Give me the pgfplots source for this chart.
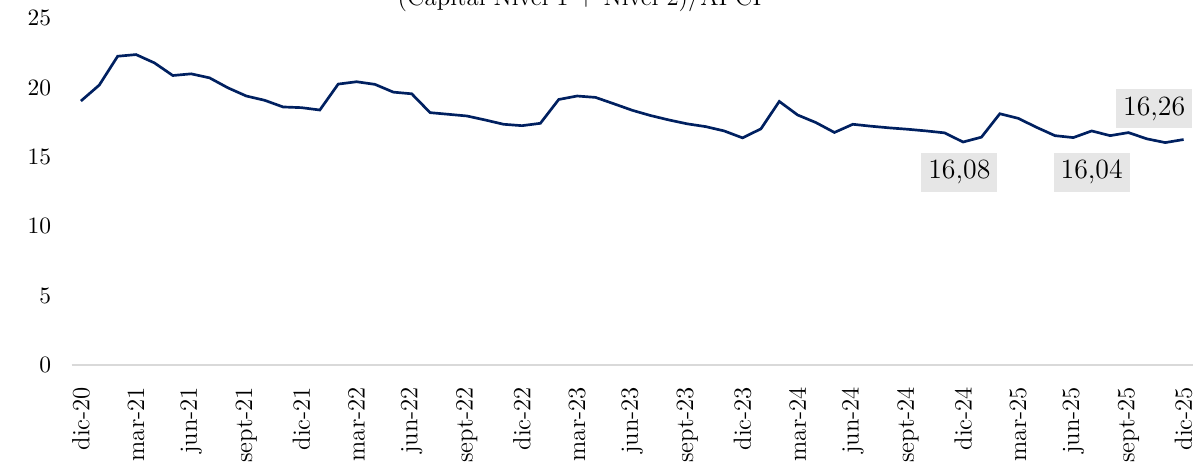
\documentclass[border=0pt]{standalone}
\usepackage{pgfplots}
\pgfplotsset{compat=1.18}
\definecolor{navy}{RGB}{0,32,96}
\definecolor{axgray}{RGB}{217,217,217}
\definecolor{boxgray}{RGB}{230,230,230}
\begin{document}
\begin{tikzpicture}
\useasboundingbox (-33.5pt,-46.2pt) rectangle (526.5pt,170.4pt);
\begin{axis}[
  at={(0,0)}, anchor=south west,
  scale only axis, width=523.6pt, height=161.8pt,
  xmin=-0.5, xmax=60.5, ymin=0, ymax=25,
  axis x line*=bottom, axis y line*=left,
  x axis line style={draw=axgray, line width=0.8pt, -},
  y axis line style={draw=none, -},
  ytick={0,5,...,25},
  xtick={0,3,...,60},
  xticklabels={dic-20,mar-21,jun-21,sept-21,dic-21,mar-22,jun-22,sept-22,dic-22,mar-23,jun-23,sept-23,dic-23,mar-24,jun-24,sept-24,dic-24,mar-25,jun-25,sept-25,dic-25},
  major tick length=0pt,
  yticklabel style={font=\fontsize{11}{13}\selectfont, xshift=-6.1pt},
  xticklabel style={font=\fontsize{11.6}{13}\selectfont, yshift=-6.8pt, rotate=90, anchor=east},
  clip=false,
]
\addplot[navy, line width=1.25pt, mark=none] table[x=i,y=v] {
i v
0 19.04
1 20.19
2 22.27
3 22.39
4 21.79
5 20.88
6 21.00
7 20.71
8 19.99
9 19.40
10 19.09
11 18.61
12 18.56
13 18.39
14 20.26
15 20.43
16 20.24
17 19.68
18 19.56
19 18.20
20 18.08
21 17.96
22 17.67
23 17.36
24 17.26
25 17.43
26 19.15
27 19.40
28 19.30
29 18.84
30 18.37
31 17.99
32 17.67
33 17.39
34 17.19
35 16.88
36 16.38
37 17.03
38 19.01
39 18.03
40 17.48
41 16.77
42 17.36
43 17.22
44 17.10
45 17.00
46 16.88
47 16.74
48 16.08
49 16.43
50 18.12
51 17.79
52 17.14
53 16.54
54 16.40
55 16.88
56 16.54
57 16.76
58 16.31
59 16.04
60 16.26
};
\node[fill=boxgray, minimum width=35.5pt, minimum height=18.2pt, inner sep=0pt, font=\fontsize{13}{15}\selectfont] at (axis cs:47.8,13.9) {16,08};
\node[fill=boxgray, minimum width=35.5pt, minimum height=18.2pt, inner sep=0pt, font=\fontsize{13}{15}\selectfont] at (axis cs:55.0,13.9) {16,04};
\node[fill=boxgray, minimum width=35.5pt, minimum height=18.2pt, inner sep=0pt, font=\fontsize{13}{15}\selectfont] at (axis cs:58.4,18.5) {16,26};
\end{axis}
\node[anchor=base, font=\fontsize{11.6}{13}\selectfont] at (239pt,167.8pt) {(Capital Nivel 1 + Nivel 2)/APCP};
\end{tikzpicture}
\end{document}
